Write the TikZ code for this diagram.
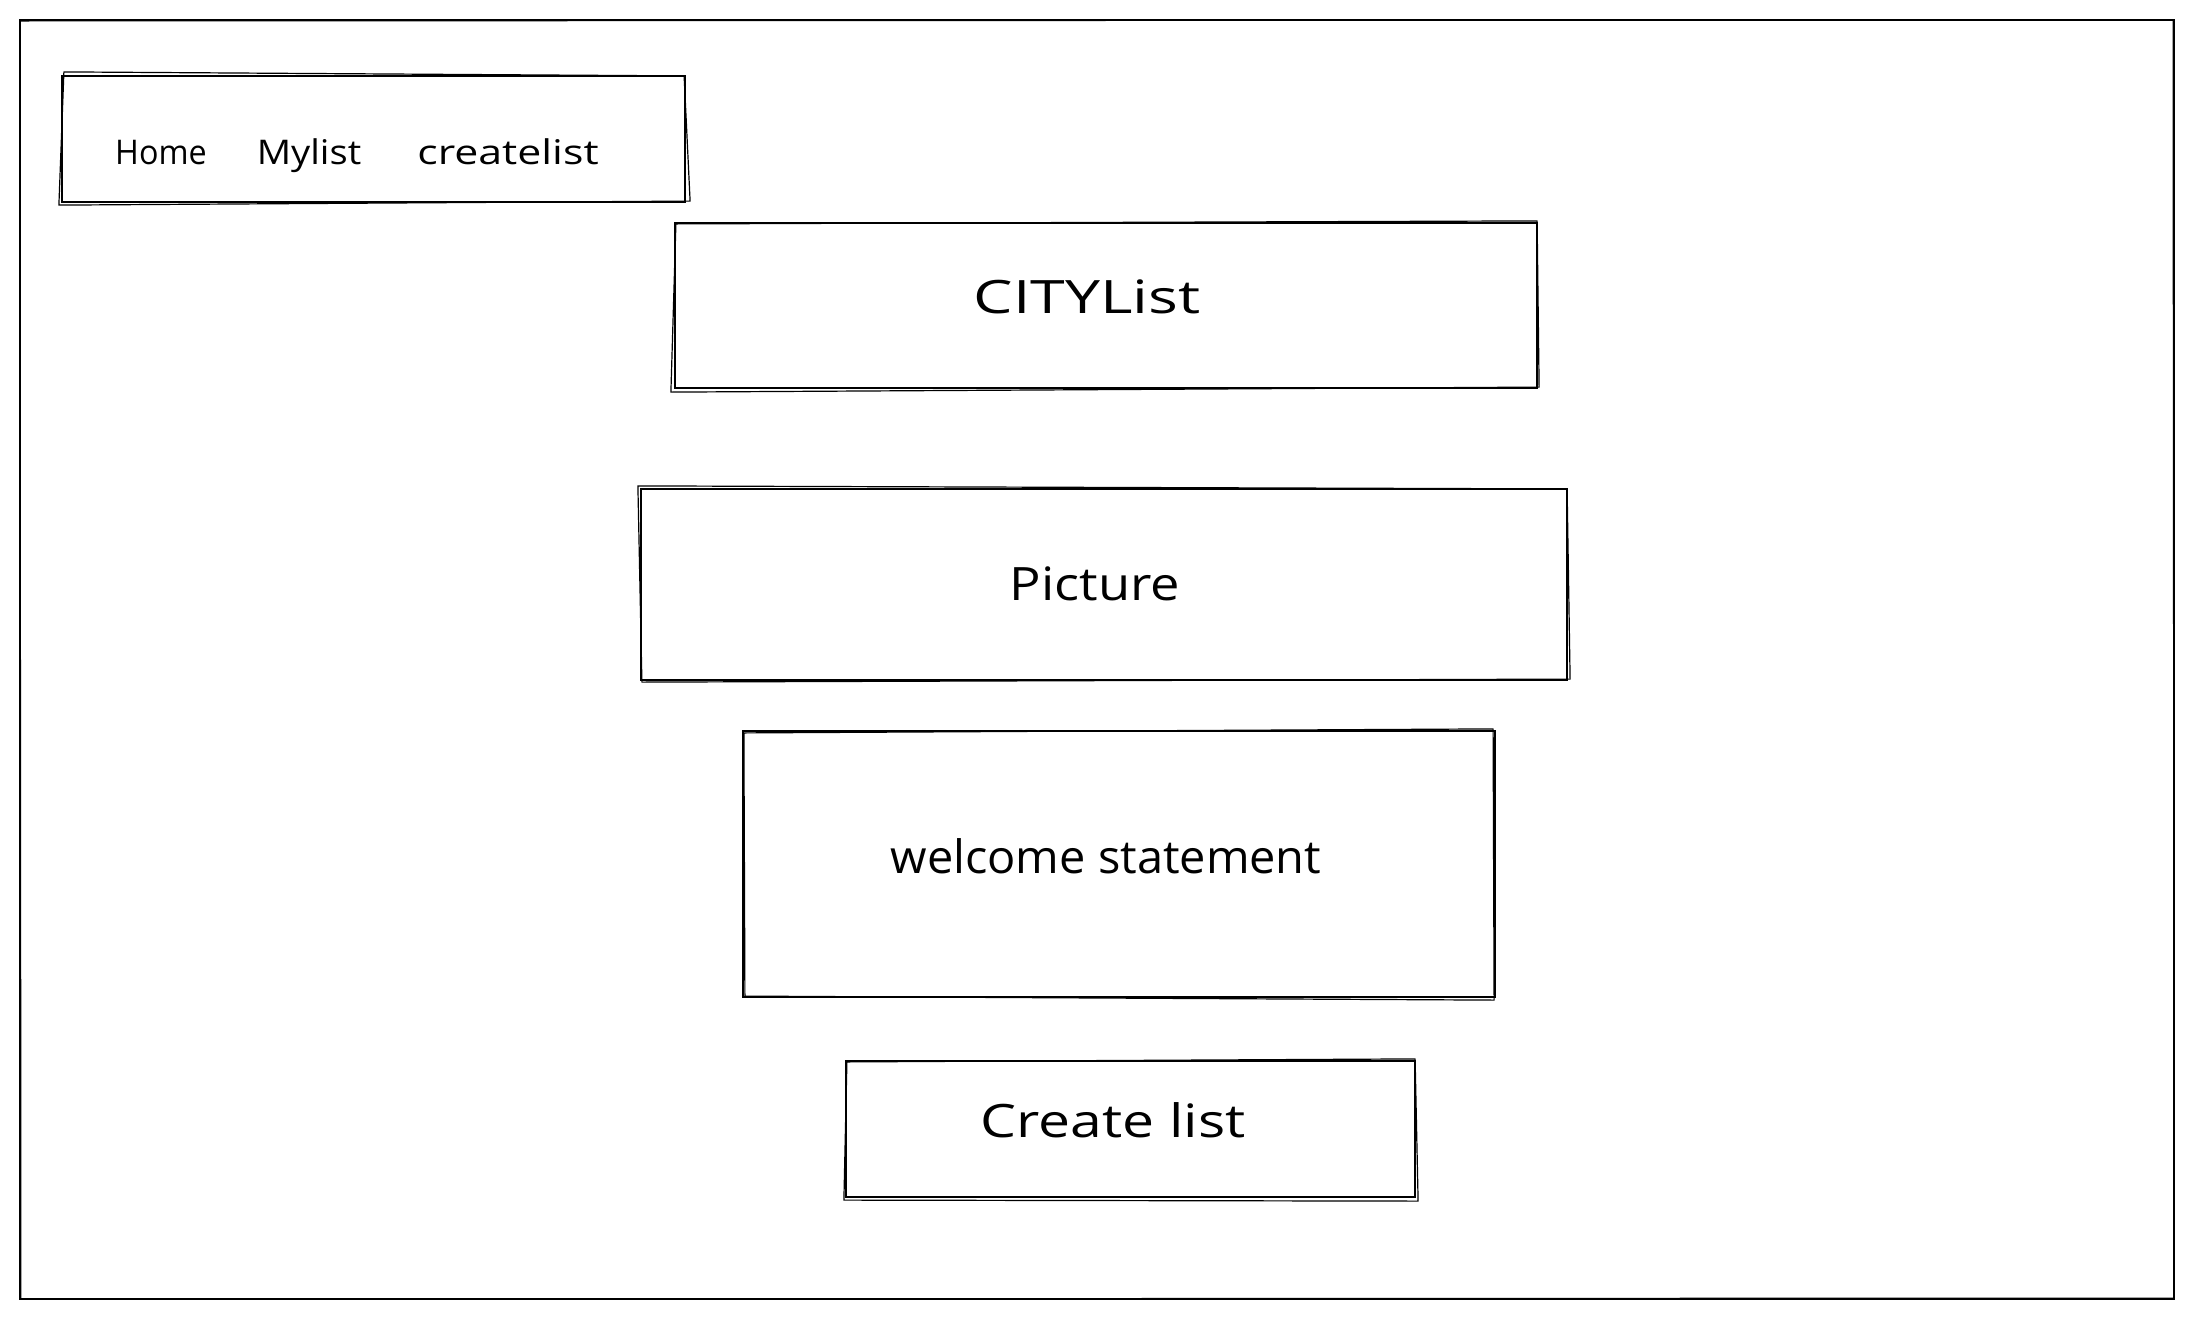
\documentclass[tikz,border=0pt]{standalone}
\usepackage{fontspec}
\setmainfont{Open Sans}
\begin{document}
\begin{tikzpicture}[x=1pt,y=-1pt,
  box/.style={draw=black, line width=2.2pt, inner sep=0pt},
  sk/.style={draw=black, line width=1.2pt, line join=round},
  bigtxt/.style={inner sep=0pt, font=\fontsize{46}{50}\selectfont},
  navtxt/.style={inner sep=0pt, anchor=base, font=\fontsize{34}{38}\selectfont}]
\useasboundingbox (0,0) rectangle (2195,1318);
\fill[white] (0,0) rectangle (2195,1318);
% outer frame
\node[box, minimum width=2154pt, minimum height=1279pt] (frame) at (1097,659.5) {};
\draw[sk] ([shift={(1,2)}]frame.north west) -- ([shift={(-2,1)}]frame.north east) -- ([shift={(-1,-2)}]frame.south east) -- ([shift={(2,-1)}]frame.south west) -- cycle;
% nav bar
\node[box, minimum width=623pt, minimum height=126pt] (nav) at (373.5,139) {};
\draw[sk] ([shift={(3,-3)}]nav.north west) -- ([shift={(-2,1)}]nav.north east) -- ([shift={(4,-2)}]nav.south east) -- ([shift={(-2,2)}]nav.south west) -- cycle;
\node[navtxt] (home) at (161,164) {\scalebox{0.95}[1]{Home}};
\node[navtxt] (mylist) at (309,164) {\scalebox{1.12}[1]{Mylist}};
\node[navtxt] (createlist) at (508,164) {\scalebox{1.26}[1]{createlist}};
% CITYList
\node[box, minimum width=862pt, minimum height=165pt] (city) at (1106,305.5) {};
\draw[sk] ([shift={(2,2)}]city.north west) -- ([shift={(-1,-1)}]city.north east) -- ([shift={(1,-2)}]city.south east) -- ([shift={(-3,3)}]city.south west) -- cycle;
\node[bigtxt] (citytxt) at (1087,297) {\scalebox{1.36}[1]{CITYList}};
% Picture
\node[box, minimum width=926pt, minimum height=191pt] (pic) at (1104,584.5) {};
\draw[sk] ([shift={(-2,-2)}]pic.north west) -- ([shift={(-1,1)}]pic.north east) -- ([shift={(2,-2)}]pic.south east) -- ([shift={(2,1)}]pic.south west) -- cycle;
\node[bigtxt] (pictxt) at (1095,584) {\scalebox{1.14}[1]{Picture}};
% welcome statement
\node[box, minimum width=752pt, minimum height=266pt] (wel) at (1119,864) {};
\draw[sk] ([shift={(2,3)}]wel.north west) -- ([shift={(-3,-1)}]wel.north east) -- ([shift={(-2,2)}]wel.south east) -- ([shift={(3,-2)}]wel.south west) -- cycle;
\node[bigtxt] (weltxt) at (1106,856) {\scalebox{1.02}[1]{welcome statement}};
% Create list button
\node[box, minimum width=569pt, minimum height=136pt] (btn) at (1130.5,1129) {};
\draw[sk] ([shift={(2,2)}]btn.north west) -- ([shift={(-1,-1)}]btn.north east) -- ([shift={(2,3)}]btn.south east) -- ([shift={(-1,2)}]btn.south west) -- cycle;
\node[bigtxt] (btntxt) at (1113,1120) {\scalebox{1.24}[1]{Create list}};
\end{tikzpicture}
\end{document}
